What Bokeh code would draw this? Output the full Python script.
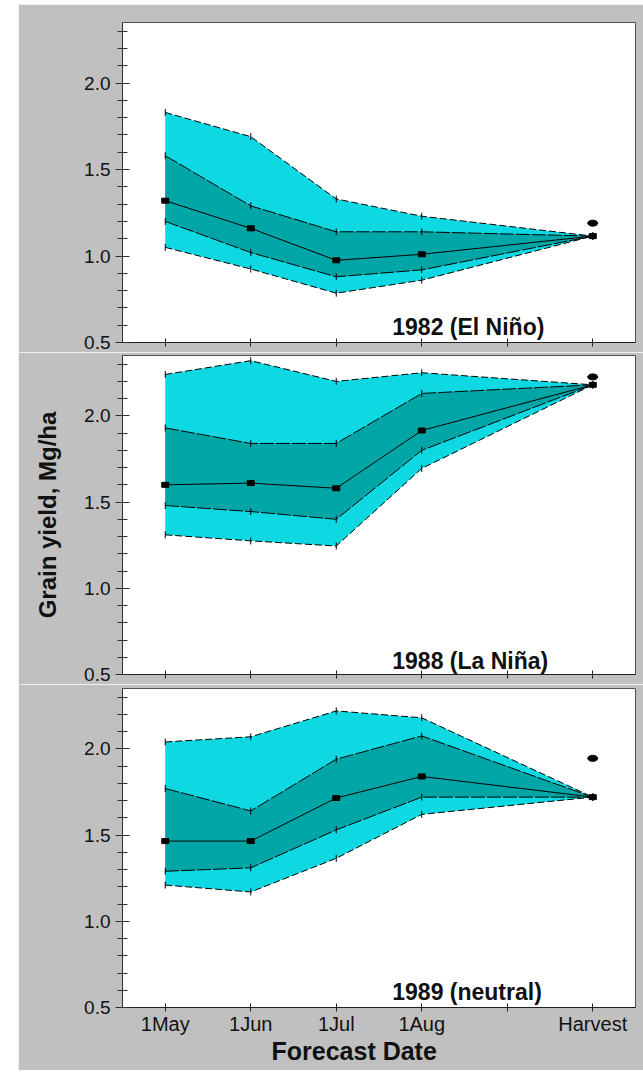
import numpy as np
from bokeh.plotting import figure
from bokeh.models import FixedTicker, Label, Spacer, Range1d, ColumnDataSource, Title
from bokeh.layouts import column, row
from bokeh.embed import file_html
from bokeh.resources import INLINE

# ---------------- data ----------------
x_ticks = [1, 2, 3, 4, 6]
x_tick_labels = ["1May", "1Jun", "1Jul", "1Aug", "Harvest"]
x_unlabelled_ticks = [5]
forecast_x = [1, 2, 3, 4, 6]          # 1May, 1Jun, 1Jul, 1Aug, Harvest
y_major = [0.5, 1.0, 1.5, 2.0]
y_tick_labels = ["0.5", "1.0", "1.5", "2.0"]
y_minor = [0.6, 0.7, 0.8, 0.9, 1.1, 1.2, 1.3, 1.4, 1.6, 1.7, 1.8, 1.9, 2.1, 2.2, 2.3]

names = ["1982 (El Niño)", "1988 (La Niña)", "1989 (neutral)"]

outer_hi_1982 = [1.83, 1.69, 1.33, 1.23, 1.115]
inner_hi_1982 = [1.58, 1.29, 1.14, 1.14, 1.115]
median_1982 = [1.32, 1.16, 0.975, 1.01, 1.115]
inner_lo_1982 = [1.20, 1.02, 0.88, 0.92, 1.115]
outer_lo_1982 = [1.05, 0.925, 0.785, 0.86, 1.115]
observed_1982 = 1.19

outer_hi_1988 = [2.24, 2.32, 2.20, 2.25, 2.18]
inner_hi_1988 = [1.93, 1.84, 1.84, 2.13, 2.18]
median_1988 = [1.60, 1.61, 1.58, 1.915, 2.18]
inner_lo_1988 = [1.48, 1.445, 1.40, 1.80, 2.18]
outer_lo_1988 = [1.31, 1.275, 1.245, 1.695, 2.18]
observed_1988 = 2.226

outer_hi_1989 = [2.04, 2.07, 2.22, 2.18, 1.72]
inner_hi_1989 = [1.77, 1.64, 1.94, 2.075, 1.72]
median_1989 = [1.465, 1.465, 1.715, 1.84, 1.72]
inner_lo_1989 = [1.29, 1.31, 1.53, 1.72, 1.72]
outer_lo_1989 = [1.21, 1.17, 1.365, 1.62, 1.72]
observed_1989 = 1.945

series = [
    (outer_hi_1982, inner_hi_1982, median_1982, inner_lo_1982, outer_lo_1982, observed_1982),
    (outer_hi_1988, inner_hi_1988, median_1988, inner_lo_1988, outer_lo_1988, observed_1988),
    (outer_hi_1989, inner_hi_1989, median_1989, inner_lo_1989, outer_lo_1989, observed_1989),
]

# ---------------- style ----------------
CYAN = "#0ed8e2"
TEAL = "#00a6a6"
GREY = "#c0c0c0"
FONT = "Liberation Sans"

# (height, min_border_top, min_border_bottom, label bottom y)
layout_specs = [(348, 18, 10, 0.517), (332, 3, 10, 0.501), (386, 4, 63, 0.512)]


def make_panel(i):
    ohi, ihi, med, ilo, olo, obs = series[i]
    h, top, bot, lab_y = layout_specs[i]
    p = figure(width=625, height=h, x_range=Range1d(0.5, 6.5), y_range=Range1d(0.5, 2.35),
               output_backend="svg", toolbar_location=None,
               min_border_left=104, min_border_right=8, min_border_top=top, min_border_bottom=bot)
    p.background_fill_color = "white"
    p.border_fill_color = GREY
    p.grid.visible = False
    p.outline_line_color = "#505050"
    p.outline_line_width = 1

    src = ColumnDataSource(dict(x=forecast_x, ohi=ohi, ihi=ihi, med=med, ilo=ilo, olo=olo))
    p.varea(x="x", y1="olo", y2="ohi", source=src, fill_color=CYAN)
    p.varea(x="x", y1="ilo", y2="ihi", source=src, fill_color=TEAL)
    for c in ["ohi", "olo"]:
        p.line("x", c, source=src, line_color="black", line_width=1, line_dash="7 3")
    for c in ["ihi", "ilo"]:
        p.line("x", c, source=src, line_color="black", line_width=1, line_dash="14 2")
    p.line("x", "med", source=src, line_color="black", line_width=1)
    for c in ["ohi", "ihi", "ilo", "olo"]:
        p.scatter("x", c, source=src, marker="dash", angle=np.pi / 2, size=7,
                  line_color="black", line_width=1)
    p.rect("x", "med", source=src, width=7, height=5, width_units="screen",
           height_units="screen", fill_color="black", line_color="black")
    p.ellipse(x=[forecast_x[-1]], y=[obs], width=10, height=6, width_units="screen",
              height_units="screen", fill_color="black", line_color="black")

    # x axis
    xa = p.xaxis[0]
    if i < 2:
        xa.ticker = FixedTicker(ticks=[], minor_ticks=sorted(x_ticks + x_unlabelled_ticks))
        xa.major_label_standoff = 0
    else:
        xa.ticker = FixedTicker(ticks=x_ticks, minor_ticks=x_unlabelled_ticks)
        xa.major_label_overrides = {t: l for t, l in zip(x_ticks, x_tick_labels)}
        xa.major_label_text_font_size = "20px"
        xa.major_label_text_font = FONT
        xa.major_label_text_color = "#111111"
        xa.major_label_standoff = 1
    xa.major_tick_in = 4
    xa.major_tick_out = 4
    xa.minor_tick_in = 4
    xa.minor_tick_out = 4
    xa.axis_line_color = "#202020"
    xa.major_tick_line_color = "#202020"
    xa.minor_tick_line_color = "#202020"

    # y axis
    ya = p.yaxis[0]
    ya.ticker = FixedTicker(ticks=y_major, minor_ticks=y_minor)
    ya.major_label_overrides = {t: l for t, l in zip(y_major, y_tick_labels)}
    ya.major_label_text_font_size = "19px"
    ya.major_label_text_font = FONT
    ya.major_label_text_color = "#111111"
    ya.major_label_standoff = 5
    ya.major_tick_in = 7
    ya.major_tick_out = 7
    ya.minor_tick_in = 5
    ya.minor_tick_out = 5
    ya.axis_line_color = "#303030"
    ya.major_tick_line_color = "#303030"
    ya.minor_tick_line_color = "#303030"
    if i == 1:
        ya.axis_label = "Grain yield, Mg/ha"
        ya.axis_label_text_font = FONT
        ya.axis_label_text_font_size = "24px"
        ya.axis_label_text_font_style = "bold"
        ya.axis_label_text_color = "#111111"
        ya.axis_label_standoff = 20

    p.add_layout(Label(x=3.655, y=lab_y, text=names[i], text_font=FONT,
                       text_font_size="23px", text_font_style="bold",
                       text_color="#111111", text_baseline="bottom"))
    if i == 2:
        p.add_layout(Title(text="Forecast Date", align="left", offset=149,
                           text_font=FONT, text_font_size="25px", text_font_style="bold",
                           text_color="#111111", standoff=-6), "below")
    return p


panels = [make_panel(i) for i in range(3)]
layout = row(Spacer(width=18),
             column(Spacer(height=4), *panels, spacing=0),
             spacing=0)

open("out.html", "w").write(file_html(layout, INLINE))
